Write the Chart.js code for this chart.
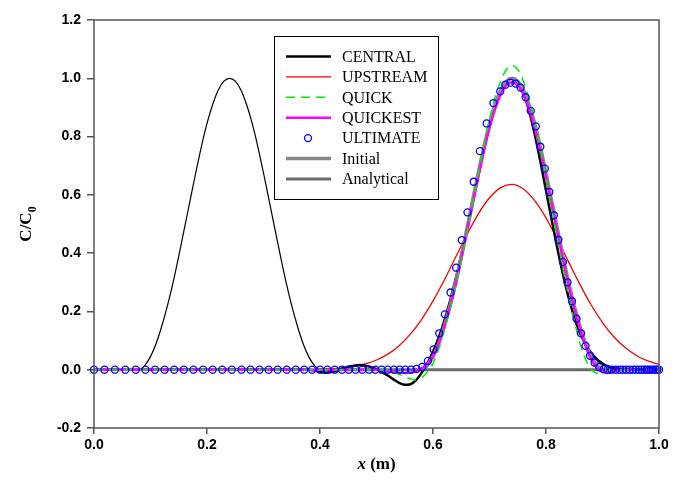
<!DOCTYPE html>
<html>
<head>
<meta charset="utf-8">
<script src="https://cdn.jsdelivr.net/npm/chart.js@4.4.1/dist/chart.umd.min.js"></script>
<style>
    body { margin: 0; background: #fff; }
    canvas { display: block; }
</style>
</head>
<body>
<canvas id="graficoAdveccao" width="684" height="495"></canvas>
<script>
var ticksX = [0, 0.2, 0.4, 0.6, 0.8, 1.0];
var ticksY = [-0.2, 0, 0.2, 0.4, 0.6, 0.8, 1.0, 1.2];

var legendaNomes = ['CENTRAL', 'UPSTREAM', 'QUICK', 'QUICKEST', 'ULTIMATE', 'Initial', 'Analytical'];

var xCentral = [0, 0.38, 0.39, 0.40, 0.41, 0.42, 0.43, 0.44, 0.45, 0.46, 0.47, 0.48, 0.49,
    0.50, 0.51, 0.52, 0.53, 0.54, 0.55, 0.56, 0.57, 0.58, 0.59, 0.60, 0.61, 0.62, 0.63, 0.64,
    0.65, 0.66, 0.67, 0.68, 0.69, 0.70, 0.71, 0.72, 0.73, 0.74, 0.75, 0.76, 0.77, 0.78, 0.79,
    0.80, 0.81, 0.82, 0.83, 0.84, 0.85, 0.86, 0.87, 0.88, 0.89, 0.90, 0.91, 0.92, 0.93, 0.94, 1.0];
var yCentral = [0, 0, -0.003, -0.008, -0.010, -0.008, -0.003, 0.004, 0.010, 0.014, 0.016, 0.014, 0.009,
    0.002, -0.008, -0.020, -0.033, -0.045, -0.052, -0.050, -0.036, -0.010, 0.022, 0.062, 0.110, 0.168, 0.235, 0.310,
    0.392, 0.480, 0.572, 0.665, 0.755, 0.836, 0.905, 0.957, 0.989, 0.998, 0.985, 0.948, 0.888, 0.808, 0.715,
    0.615, 0.515, 0.418, 0.328, 0.248, 0.180, 0.127, 0.087, 0.057, 0.036, 0.021, 0.011, 0.005, 0.002, 0, 0];

var xUpstream = [0, 0.38, 0.40, 0.42, 0.44, 0.46, 0.48, 0.50, 0.52, 0.54, 0.56, 0.58, 0.60, 0.62, 0.64,
    0.66, 0.68, 0.70, 0.72, 0.74, 0.76, 0.78, 0.80, 0.82, 0.84, 0.86, 0.88, 0.90, 0.92, 0.94, 0.96, 0.98, 1.0];
var yUpstream = [0, 0.001, 0.0017, 0.0033, 0.0062, 0.0114, 0.0199, 0.0333, 0.0535, 0.0826, 0.122, 0.173, 0.236, 0.308, 0.386,
    0.463, 0.534, 0.590, 0.625, 0.636, 0.620, 0.580, 0.521, 0.448, 0.370, 0.293, 0.222, 0.162, 0.113, 0.076, 0.049, 0.030, 0.018];

var xQuick = [0, 0.52, 0.53, 0.54, 0.55, 0.56, 0.57, 0.58, 0.59, 0.60, 0.61, 0.62, 0.63, 0.64, 0.65,
    0.66, 0.67, 0.68, 0.69, 0.70, 0.71, 0.72, 0.73, 0.74, 0.75, 0.76, 0.77, 0.78, 0.79, 0.80, 0.81,
    0.82, 0.83, 0.84, 0.85, 0.86, 0.87, 0.88, 0.89, 0.90, 0.91, 0.92, 1.0];
var yQuick = [0, 0, -0.008, -0.016, -0.024, -0.031, -0.035, -0.027, -0.008, 0.022, 0.070, 0.135, 0.205, 0.285, 0.372,
    0.468, 0.568, 0.668, 0.768, 0.858, 0.935, 0.990, 1.030, 1.043, 1.030, 0.990, 0.928, 0.848, 0.757, 0.658, 0.553,
    0.448, 0.348, 0.255, 0.168, 0.092, 0.036, 0.002, -0.012, -0.008, -0.002, 0, 0];

var xQuickest = [0, 0.50, 0.51, 0.52, 0.53, 0.54, 0.55, 0.56, 0.57, 0.58, 0.59, 0.60, 0.61, 0.62, 0.63, 0.64,
    0.65, 0.66, 0.67, 0.68, 0.69, 0.70, 0.71, 0.72, 0.73, 0.74, 0.75, 0.76, 0.77, 0.78, 0.79, 0.80,
    0.81, 0.82, 0.83, 0.84, 0.85, 0.86, 0.87, 0.88, 0.89, 0.90, 0.91, 0.92, 0.93, 1.0];
var yQuickest = [0, 0, -0.002, -0.005, -0.008, -0.010, -0.011, -0.010, -0.005, 0.005, 0.020, 0.045, 0.088, 0.145, 0.213, 0.290,
    0.378, 0.470, 0.565, 0.660, 0.750, 0.830, 0.895, 0.945, 0.977, 0.986, 0.975, 0.945, 0.895, 0.830, 0.750, 0.660,
    0.567, 0.472, 0.378, 0.290, 0.210, 0.140, 0.082, 0.036, 0.006, -0.008, -0.010, -0.005, 0, 0];

var xUltimate = [0, 0.0185, 0.037, 0.0555, 0.074, 0.091, 0.108, 0.125, 0.142, 0.159, 0.176, 0.193, 0.210,
    0.227, 0.244, 0.261, 0.277, 0.293, 0.309, 0.325, 0.341, 0.357, 0.372, 0.386, 0.400, 0.413, 0.426,
    0.439, 0.451, 0.463, 0.475, 0.487, 0.498, 0.509, 0.520, 0.531, 0.541, 0.551, 0.561, 0.571, 0.581,
    0.591, 0.601, 0.611, 0.621, 0.631, 0.641, 0.651, 0.661, 0.672, 0.683, 0.695, 0.707, 0.719, 0.728,
    0.737, 0.746, 0.755, 0.764, 0.773, 0.782, 0.790, 0.798, 0.806, 0.814, 0.822, 0.830, 0.838, 0.846,
    0.854, 0.862, 0.870, 0.878, 0.886, 0.894, 0.902, 0.909, 0.916, 0.923, 0.930, 0.936, 0.942, 0.948,
    0.954, 0.959, 0.964, 0.969, 0.974, 0.978, 0.982, 0.986, 0.990, 0.994, 0.997, 1.000];
var yUltimate = [0, 0, 0, 0, 0, 0, 0, 0, 0, 0, 0, 0, 0,
    0, 0, 0, 0, 0, 0, 0, 0, 0, 0, 0, 0, 0, 0,
    0, 0, 0, 0, 0, 0, 0, 0, 0, 0, 0, 0, 0.003, 0.010,
    0.030, 0.070, 0.125, 0.190, 0.265, 0.350, 0.445, 0.540, 0.645, 0.750, 0.845, 0.915, 0.955, 0.978,
    0.985, 0.982, 0.968, 0.935, 0.888, 0.835, 0.765, 0.690, 0.610, 0.530, 0.446, 0.370, 0.300, 0.235,
    0.175, 0.125, 0.082, 0.048, 0.024, 0.009, 0.002, 0, 0, 0, 0, 0, 0, 0,
    0, 0, 0, 0, 0, 0, 0, 0, 0, 0, 0, 0];

var xInitial = [0.58, 0.59, 0.60, 0.61, 0.62, 0.63, 0.64, 0.65, 0.66, 0.67, 0.68, 0.69, 0.70, 0.71, 0.72, 0.73,
    0.74, 0.75, 0.76, 0.77, 0.78, 0.79, 0.80, 0.81, 0.82, 0.83, 0.84, 0.85, 0.86, 0.87, 0.88, 0.89, 0.90];
var yInitial = [0, 0.015, 0.045, 0.090, 0.150, 0.220, 0.300, 0.390, 0.485, 0.580, 0.675, 0.765, 0.845, 0.910, 0.960, 0.990,
    1.0, 0.990, 0.960, 0.910, 0.845, 0.765, 0.675, 0.580, 0.485, 0.390, 0.300, 0.220, 0.150, 0.090, 0.045, 0.015, 0];

var xAnalytical = [0.40, 1.0];
var yAnalytical = [0, 0];

var xPulso = [0, 0.08, 0.09, 0.10, 0.11, 0.12, 0.13, 0.14, 0.15, 0.16, 0.17, 0.18, 0.19, 0.20, 0.21, 0.22, 0.23,
    0.24, 0.25, 0.26, 0.27, 0.28, 0.29, 0.30, 0.31, 0.32, 0.33, 0.34, 0.35, 0.36, 0.37, 0.38, 0.39, 0.40];
var yPulso = [0, 0, 0.015, 0.045, 0.090, 0.150, 0.220, 0.300, 0.390, 0.485, 0.580, 0.675, 0.765, 0.845, 0.910, 0.960, 0.990,
    1.0, 0.990, 0.960, 0.910, 0.845, 0.765, 0.675, 0.580, 0.485, 0.390, 0.300, 0.220, 0.150, 0.090, 0.045, 0.015, 0];

function pares(xs, ys) {
    return xs.map(function (x, i) {
        return { x: x, y: ys[i] };
    });
}

function linha(label, xs, ys, cor, largura, ordem, tracejado) {
    return {
        label: label,
        data: pares(xs, ys),
        showLine: true,
        borderColor: cor,
        backgroundColor: cor,
        borderWidth: largura,
        borderDash: tracejado || [],
        pointRadius: 0,
        cubicInterpolationMode: 'monotone',
        order: ordem
    };
}

var moldura = {
    id: 'moldura',
    afterDraw: function (chart) {
        var a = chart.chartArea;
        var ctx = chart.ctx;
        ctx.save();
        ctx.strokeStyle = '#555';
        ctx.lineWidth = 1.5;
        ctx.strokeRect(a.left, a.top, a.right - a.left, a.bottom - a.top);
        ctx.restore();
    }
};

var legendaInterna = {
    id: 'legendaInterna',
    afterDraw: function (chart) {
        var ctx = chart.ctx;
        ctx.save();
        ctx.fillStyle = '#fff';
        ctx.fillRect(274, 36, 164, 163);
        ctx.strokeStyle = '#000';
        ctx.lineWidth = 1;
        ctx.strokeRect(274.5, 36.5, 164, 163);
        ctx.font = '16px "Liberation Serif", "Times New Roman", serif';
        ctx.textBaseline = 'middle';
        legendaNomes.forEach(function (nome, i) {
            var ds = chart.data.datasets.filter(function (d) { return d.label === nome; })[0];
            var y = 56.5 + i * 20.4;
            ctx.save();
            if (ds.showLine) {
                ctx.strokeStyle = ds.borderColor;
                ctx.lineWidth = ds.borderWidth;
                ctx.setLineDash(ds.borderDash);
                ctx.beginPath();
                ctx.moveTo(286, y);
                ctx.lineTo(331, y);
                ctx.stroke();
            } else {
                ctx.strokeStyle = ds.borderColor;
                ctx.lineWidth = ds.borderWidth;
                ctx.beginPath();
                ctx.arc(308, y, ds.pointRadius, 0, Math.PI * 2);
                ctx.stroke();
            }
            ctx.restore();
            ctx.fillStyle = '#000';
            ctx.fillText(nome, 342, y + 1);
        });
        ctx.restore();
    }
};

var titulosEixos = {
    id: 'titulosEixos',
    afterDraw: function (chart) {
        var ctx = chart.ctx;
        var a = chart.chartArea;
        ctx.save();
        ctx.fillStyle = '#000';
        ctx.textBaseline = 'alphabetic';

        // eixo y: C/C0 com subscrito
        var fonteG = 'bold 17px "Liberation Serif", "Times New Roman", serif';
        var fonteP = 'bold 12px "Liberation Serif", "Times New Roman", serif';
        ctx.font = fonteG;
        var w1 = ctx.measureText('C/C').width;
        ctx.font = fonteP;
        var w2 = ctx.measureText('0').width;
        ctx.translate(31, (a.top + a.bottom) / 2);
        ctx.rotate(-Math.PI / 2);
        ctx.font = fonteG;
        ctx.fillText('C/C', -(w1 + w2) / 2, 0);
        ctx.font = fonteP;
        ctx.fillText('0', -(w1 + w2) / 2 + w1, 5);
        ctx.setTransform(1, 0, 0, 1, 0, 0);

        // eixo x: x (m)
        var fonteI = 'bold italic 17px "Liberation Serif", "Times New Roman", serif';
        ctx.font = fonteI;
        var wx = ctx.measureText('x').width;
        ctx.font = fonteG;
        var wm = ctx.measureText(' (m)').width;
        var x0 = (a.left + a.right) / 2 - (wx + wm) / 2;
        ctx.font = fonteI;
        ctx.fillText('x', x0, 469);
        ctx.font = fonteG;
        ctx.fillText(' (m)', x0 + wx, 469);
        ctx.restore();
    }
};

var fonteTicks = { family: '"Liberation Sans", Arial, sans-serif', size: 14, weight: 'bold' };

var ctx = document.getElementById('graficoAdveccao').getContext('2d');
var grafico = new Chart(ctx, {
    type: 'scatter',
    data: {
        datasets: [
            {
                label: 'ULTIMATE',
                data: pares(xUltimate, yUltimate),
                showLine: false,
                pointStyle: 'circle',
                pointRadius: 3.5,
                borderColor: '#0000ff',
                backgroundColor: 'rgba(0,0,0,0)',
                borderWidth: 1.3,
                clip: false,
                order: 0
            },
            linha('QUICK', xQuick, yQuick, '#00ee00', 1.5, 1, [9, 6]),
            linha('QUICKEST', xQuickest, yQuickest, '#ff00ff', 2.5, 2),
            linha('Initial', xInitial, yInitial, '#888888', 3.5, 3),
            linha('CENTRAL', xCentral, yCentral, '#000000', 2.5, 4),
            linha('UPSTREAM', xUpstream, yUpstream, '#ff0000', 1.3, 5),
            linha('Analytical', xAnalytical, yAnalytical, '#6a6a6a', 3, 6),
            linha('', xPulso, yPulso, '#000000', 1.2, 7)
        ]
    },
    options: {
        responsive: false,
        animation: false,
        events: [],
        layout: { padding: { top: 20, right: 25, left: 0, bottom: 0 } },
        plugins: {
            legend: { display: false },
            tooltip: { enabled: false }
        },
        scales: {
            x: {
                type: 'linear',
                min: 0,
                max: 1,
                afterBuildTicks: function (eixo) {
                    eixo.ticks = ticksX.map(function (v) { return { value: v }; });
                },
                afterFit: function (eixo) { eixo.height = 67; },
                ticks: {
                    font: fonteTicks,
                    color: '#000',
                    padding: 3,
                    maxRotation: 0,
                    callback: function (v) { return v.toFixed(1); }
                },
                grid: { drawOnChartArea: false, tickLength: 6, color: '#555', lineWidth: 1.5 },
                border: { display: false }
            },
            y: {
                type: 'linear',
                min: -0.2,
                max: 1.2,
                afterBuildTicks: function (eixo) {
                    eixo.ticks = ticksY.map(function (v) { return { value: v }; });
                },
                afterFit: function (eixo) { eixo.width = 94; },
                ticks: {
                    font: fonteTicks,
                    color: '#000',
                    padding: 6,
                    callback: function (v) { return v.toFixed(1); }
                },
                grid: { drawOnChartArea: false, tickLength: 7, color: '#555', lineWidth: 1.5 },
                border: { display: false }
            }
        }
    },
    plugins: [moldura, legendaInterna, titulosEixos]
});
</script>
</body>
</html>
